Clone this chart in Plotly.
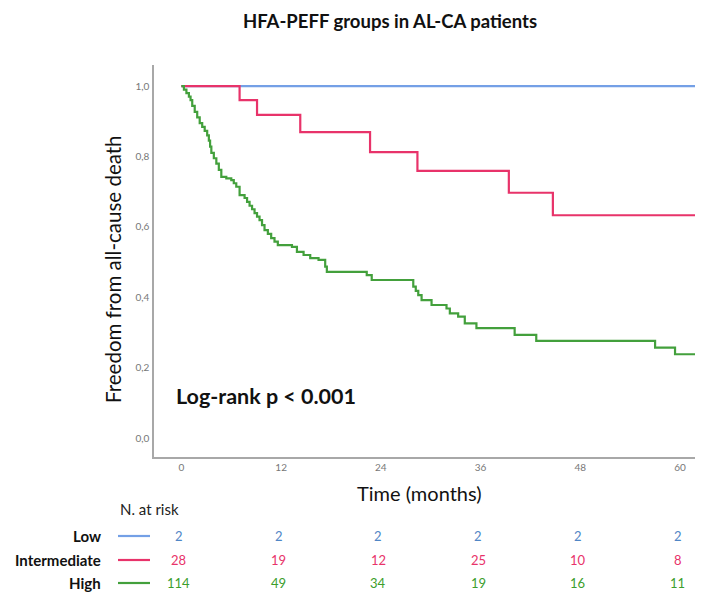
import plotly.graph_objects as go

# ---- data ----
groups = ["Low", "Intermediate", "High"]
colors = ["#74a0e6", "#e8336a", "#43a03c"]
num_colors = ["#4f86c6", "#e8336a", "#3c9e2c"]

low_t = [0, 64.0]
low_s = [1.0, 1.0]

int_t = [0, 7.0, 9.1, 14.3, 22.7, 28.4, 39.4, 44.7, 64.0]
int_s = [1.0, 0.960, 0.918, 0.869, 0.8125, 0.759, 0.697, 0.633, 0.633]

high_t = [0, 0.3, 0.6, 0.9, 1.1, 1.3, 1.6, 1.9, 2.2, 2.5, 2.8, 3.1, 3.3, 3.45, 3.6, 3.9,
          4.2, 4.5, 4.8, 5.4, 6.0, 6.3, 6.6, 7.0, 7.6, 7.9, 8.2, 8.5, 8.8, 9.1, 9.4, 9.7,
          10.0, 10.4, 10.8, 11.2, 11.6, 13.3, 13.9, 14.7, 15.5, 16.5, 17.3, 17.5,
          22.3, 22.9, 27.9, 28.2, 28.5, 28.9, 30.1, 31.9, 32.3, 33.3, 34.1, 35.5, 40.1,
          42.7, 57.0, 59.4, 64.0]
high_s = [1.0, 0.99, 0.98, 0.97, 0.960, 0.944, 0.927, 0.911, 0.895, 0.884, 0.873, 0.860,
          0.845, 0.828, 0.810, 0.795, 0.780, 0.762, 0.742, 0.738, 0.733, 0.724, 0.714,
          0.690, 0.682, 0.671, 0.660, 0.650, 0.639, 0.629, 0.619, 0.605, 0.591, 0.580,
          0.568, 0.558, 0.548, 0.543, 0.529, 0.520, 0.511, 0.506, 0.487, 0.472, 0.463,
          0.449, 0.430, 0.418, 0.406, 0.392, 0.378, 0.368, 0.354, 0.345, 0.326, 0.312,
          0.293, 0.276, 0.257, 0.238, 0.238]

risk_times = [0, 12, 24, 36, 48, 60]
risk_low = [2, 2, 2, 2, 2, 2]
risk_int = [28, 19, 12, 25, 10, 8]
risk_high = [114, 49, 34, 19, 16, 11]

x_ticks = [0, 12, 24, 36, 48, 60]
y_ticks = [0.0, 0.2, 0.4, 0.6, 0.8, 1.0]

FONT = "Lato, 'Open Sans', sans-serif"

fig = go.Figure()
for t, s, c, name in [(low_t, low_s, colors[0], groups[0]),
                      (int_t, int_s, colors[1], groups[1]),
                      (high_t, high_s, colors[2], groups[2])]:
    fig.add_trace(go.Scatter(x=t, y=s, mode="lines", line=dict(color=c, width=2.2, shape="hv"),
                             name=name, showlegend=False, hoverinfo="skip"))

# page body has an 8px margin: figure origin sits at screen (8, 8)
OFF = 8
W, H = 703, 596
L, R, T, B = 154 - OFF, 0, 65 - OFF, H - (457 - OFF)
pw, ph = W - L - R, H - T - B

def px(x):  # screen pixel x -> paper
    return (x - OFF - L) / pw

def py(y):  # screen pixel y -> paper
    return (H - B - (y - OFF)) / ph

def ann(text, x, y, size, color="#111", xanchor="center", angle=0, xref="paper"):
    return dict(text=text, x=x, y=py(y), xref=xref, yref="paper", showarrow=False,
                xanchor=xanchor, yanchor="middle", textangle=angle,
                font=dict(family=FONT, size=size, color=color))

annotations = [
    ann("<b>HFA-PEFF groups in AL-CA patients</b>", px(390), 21, 18.5),
    ann("Freedom from all-cause death", px(113), 269, 20.5, angle=-90),
    ann("Time (months)", px(419), 493, 20),
    ann("<b>Log-rank p &lt; 0.001</b>", px(174), 396, 21.5, xanchor="left"),
    ann("N. at risk", px(118), 509, 15, color="#222", xanchor="left"),
]

row_y = [536, 560, 583]
risk_rows = [risk_low, risk_int, risk_high]
shapes = []
for g, ry, c, nc, vals in zip(groups, row_y, colors, num_colors, risk_rows):
    annotations.append(ann("<b>" + g + "</b>", px(103), ry, 15, xanchor="right"))
    shapes.append(dict(type="line", xref="paper", yref="paper", x0=px(118), x1=px(150),
                       y0=py(ry), y1=py(ry), line=dict(color=c, width=2.2)))
    for t, v in zip(risk_times, vals):
        annotations.append(ann(str(v), t - 0.3, ry, 13, color=nc, xref="x"))

# x range: screen 154 -> -3.3 months, 8.31 px per month
x_lo = -3.3
x_hi = x_lo + pw / 8.31

fig.update_layout(
    width=W, height=H,
    margin=dict(l=L, r=R, t=T, b=B),
    paper_bgcolor="white", plot_bgcolor="white",
    separators=",.",
    annotations=annotations, shapes=shapes,
    xaxis=dict(range=[x_lo, x_hi], tickvals=x_ticks, showgrid=False, zeroline=False,
               automargin=False,
               showline=True, linecolor="#a8a8a8", linewidth=1.5, ticks="",
               ticklabelstandoff=0, tickfont=dict(family=FONT, size=10, color="#777")),
    yaxis=dict(range=[-0.054, 1.06], tickvals=y_ticks, tickformat=".1f", showgrid=False,
               automargin=False,
               zeroline=False, showline=True, linecolor="#a8a8a8", linewidth=1.5, ticks="",
               ticklabelstandoff=1, tickfont=dict(family=FONT, size=10, color="#777")),
)

fig.write_html("out.html")
